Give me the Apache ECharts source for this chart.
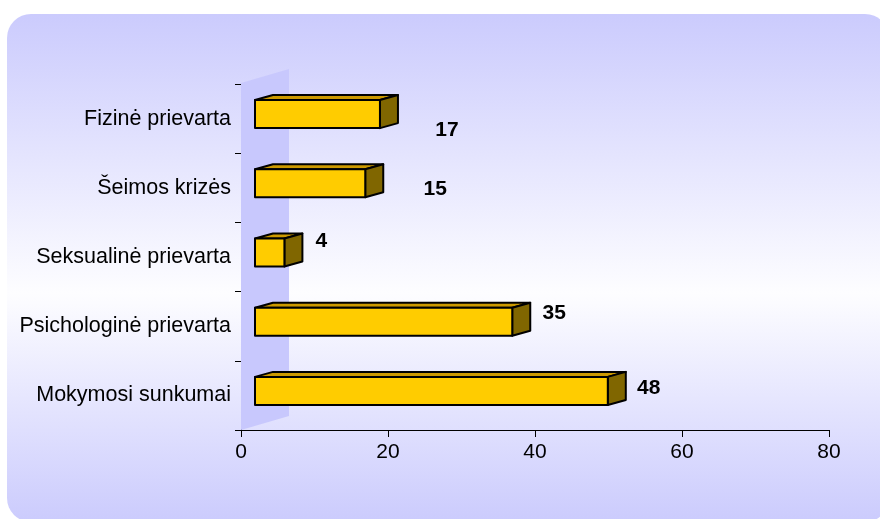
<!DOCTYPE html>
<html>
<head>
<meta charset="utf-8">
<script src="https://cdn.jsdelivr.net/npm/echarts@6/dist/echarts.min.js"></script>
<style>
  html, body { margin: 0; padding: 0; background: #fff; }
  #main { width: 880px; height: 519px; }
</style>
</head>
<body>
<div id="main"></div>
<script>
// data
const categories = ['Fizinė prievarta', 'Šeimos krizės', 'Seksualinė prievarta', 'Psichologinė prievarta', 'Mokymosi sunkumai'];
const values = [17, 15, 4, 35, 48];
const xTicks = [0, 20, 40, 60, 80];

// where Excel dropped each value label, relative to the bar end (px)
const labelNudge = [[49, 16], [52, 6], [19, -11], [24, -8], [23, -3]];

const FONT = '"Liberation Sans", Arial, sans-serif';
const FRONT_SHIFT = 14;   // bars sit a little in front of the wall
const DEPTH = [18, -5];   // 3d depth of a bar
const WALL_DEPTH = [48, -14];

const chart = echarts.init(document.getElementById('main'));

function renderWall(params, api) {
  const cs = params.coordSys;
  const x = cs.x, top = cs.y, bottom = cs.y + cs.height;
  return {
    type: 'polygon',
    shape: {
      points: [
        [x, top - 1],
        [x + WALL_DEPTH[0], top - 1 + WALL_DEPTH[1]],
        [x + WALL_DEPTH[0], bottom + WALL_DEPTH[1]],
        [x, bottom]
      ]
    },
    style: { fill: '#c8c8fd' },
    silent: true
  };
}

function renderBar(params, api) {
  const v = api.value(0);
  const i = api.value(1);
  const start = api.coord([0, i]);
  const end = api.coord([v, i]);
  const band = api.size([0, 1])[1];
  const h = band * 0.405;
  const x0 = start[0] + FRONT_SHIFT;
  const x1 = end[0] + FRONT_SHIFT;
  const cy = start[1] - 4.5;
  const y0 = cy - h / 2, y1 = cy + h / 2;
  const dx = DEPTH[0], dy = DEPTH[1];
  const stroke = { stroke: '#000', lineWidth: 2, lineJoin: 'round' };
  const nudge = labelNudge[i];
  return {
    type: 'group',
    children: [
      {
        type: 'polygon',
        shape: { points: [[x0, y0], [x0 + dx, y0 + dy], [x1 + dx, y0 + dy], [x1, y0]] },
        style: Object.assign({ fill: '#cc9900' }, stroke)
      },
      {
        type: 'polygon',
        shape: { points: [[x1, y0], [x1 + dx, y0 + dy], [x1 + dx, y1 + dy], [x1, y1]] },
        style: Object.assign({ fill: '#806600' }, stroke)
      },
      {
        type: 'rect',
        shape: { x: x0, y: y0, width: x1 - x0, height: h },
        style: Object.assign({ fill: '#ffcc00' }, stroke)
      },
      {
        type: 'text',
        x: x1 + dx + nudge[0],
        y: cy + nudge[1],
        style: {
          text: String(v),
          fill: '#000',
          font: 'bold 21px ' + FONT,
          align: 'center',
          verticalAlign: 'middle'
        }
      }
    ]
  };
}

chart.setOption({
  animation: false,
  graphic: [
    {
      type: 'rect',
      z: -10,
      shape: { x: 7, y: 14, width: 882, height: 508, r: 24 },
      style: {
        fill: new echarts.graphic.LinearGradient(0, 0, 0, 1, [
          { offset: 0, color: '#cbcbfd' },
          { offset: 0.55, color: '#fdfdff' },
          { offset: 1, color: '#cbcbfd' }
        ])
      },
      silent: true
    }
  ],
  grid: { left: 241, right: 51, top: 84, bottom: 89 },
  xAxis: {
    type: 'value',
    min: xTicks[0],
    max: xTicks[xTicks.length - 1],
    interval: xTicks[1] - xTicks[0],
    splitLine: { show: false },
    axisLine: { show: true, lineStyle: { color: '#000', width: 1 } },
    axisTick: { show: true, length: 7, lineStyle: { color: '#000' } },
    axisLabel: { color: '#000', fontSize: 21, fontFamily: FONT, margin: 12 }
  },
  yAxis: {
    type: 'category',
    inverse: true,
    data: categories,
    axisLine: { show: true, lineStyle: { color: '#000', width: 1 } },
    axisTick: { show: true, length: 6, lineStyle: { color: '#000' } },
    axisLabel: { color: '#000', fontSize: 21.5, fontFamily: FONT, margin: 10, padding: [0, 0, 8, 0] }
  },
  series: [
    {
      type: 'custom',
      renderItem: renderWall,
      data: [[0, 0]],
      encode: { x: 0, y: 1 },
      z: 1,
      silent: true
    },
    {
      type: 'custom',
      renderItem: renderBar,
      data: values.map((v, i) => [v, i]),
      encode: { x: 0, y: 1 },
      z: 2
    }
  ]
});
</script>
</body>
</html>
